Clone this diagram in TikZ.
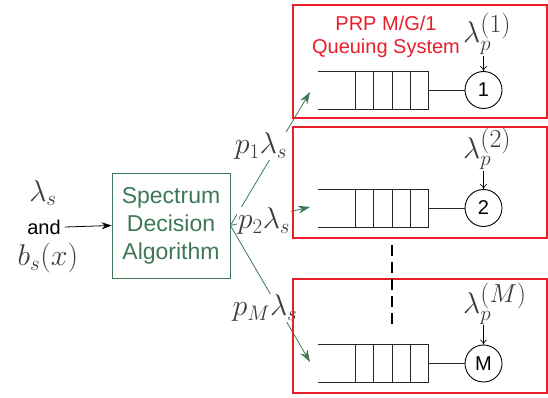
\RequirePackage{fix-cm}
\documentclass[tikz,border=0pt]{standalone}
\usepackage{fontspec}
\setmainfont{Liberation Sans}
\usetikzlibrary{arrows.meta}
\newcommand{\smallsub}[1]{\mbox{\fontsize{21}{21}\selectfont$#1$}}
\newcommand{\supsz}[1]{\mbox{\fontsize{26}{26}\selectfont$#1$}}
\newcommand{\lamP}[1]{\lambda_{\smallsub{p}}^{\supsz{(#1)}}}
\definecolor{sysred}{RGB}{232,30,40}
\definecolor{sdagreen}{RGB}{62,120,88}
\definecolor{mathgrey}{RGB}{60,60,60}
\begin{document}
\begin{tikzpicture}[x=1pt,y=-1pt,
  redbox/.style={draw=sysred, line width=1.8pt, minimum width=254pt, inner sep=0pt},
  server/.style={circle, draw, line width=0.9pt, minimum size=37pt, inner sep=0pt, font=\fontsize{20}{24}\selectfont},
  mathlbl/.style={text=mathgrey, inner sep=0pt, font=\fontsize{30}{34}\selectfont},
  feedlbl/.style={text=mathgrey, inner sep=1pt, fill=white, font=\fontsize{30}{34}\selectfont},
  feed/.style={draw=sdagreen, line width=0.8pt, -{Stealth[length=12pt,width=8pt]}},
  queueline/.style={line width=0.9pt, draw=black!85},
  arrin/.style={line width=0.6pt, -{To[length=5pt,width=7pt]}},
  dashline/.style={line width=2.6pt, dash pattern=on 11pt off 6pt},
  sdabox/.style={draw=sdagreen, line width=0.8pt, text=sdagreen, align=center, minimum width=118pt, minimum height=105pt, inner sep=0pt, font=\fontsize{23}{28}\selectfont}
]
\useasboundingbox (0,0) rectangle (548,398);

% left inputs
\node[mathlbl] (lams) at (43,193) {$\lambda_{\smallsub{s}}$};
\node[inner sep=0pt, font=\fontsize{20}{24}\selectfont] (and) at (44,227) {and};
\node[mathlbl] (bs) at (48,258) {$b_{\smallsub{s}}(x)$};
\node[sdabox] (sda) at (171,225.5) {Spectrum\\Decision\\Algorithm};
\draw[line width=0.8pt, -{Stealth[length=10pt,width=7pt]}] (and.east) ++(4,0) coordinate (ain) -- (sda.west);

% queues
\foreach \i/\y in {1/90, 2/208, 3/363.5} {
  \draw[queueline] (318,\y-19) -- (428,\y-19) -- (428,\y+19) -- (318,\y+19);
  \foreach \x in {355,373,392,410} \draw[queueline] (\x,\y-19) -- (\x,\y+19);
  \coordinate (q\i) at (428,\y);
}
\node[server] (srv1) at (483.5,90) {1};
\node[server] (srv2) at (483.5,208) {2};
\node[server] (srv3) at (483.5,363.5) {M};
\foreach \i in {1,2,3} \draw[queueline] (q\i) -- (srv\i.west);

% arrival labels
\node[mathlbl, anchor=base west] (lp1) at (463,43) {$\lamP{1}$};
\node[mathlbl, anchor=base west] (lp2) at (463,158) {$\lamP{2}$};
\node[mathlbl, anchor=base west] (lp3) at (463,313) {$\lamP{M}$};
\coordinate (a1) at (483.5,56);
\coordinate (a2) at (483.5,171);
\coordinate (a3) at (483.5,325);
\foreach \i in {1,2,3} \draw[arrin] (a\i) -- (srv\i.north);

% feeds
\coordinate (t1) at (310,92);
\coordinate (t2) at (310,207);
\coordinate (t3) at (310,362);
\foreach \i in {1,2,3} \draw[feed] (sda.east) -- (t\i);
\node[feedlbl] (f1) at (261,146) {$p_{\smallsub{1}}\lambda_{\smallsub{s}}$};
\node[feedlbl] (f2) at (264,221) {$p_{\smallsub{2}}\lambda_{\smallsub{s}}$};
\node[feedlbl] (f3) at (265,308) {$p_{\smallsub{M}}\lambda_{\smallsub{s}}$};

% systems
\node[redbox, minimum height=113pt] (sys1) at (420,61.5) {};
\node[redbox, minimum height=111pt] (sys2) at (420,182.5) {};
\node[redbox, minimum height=114pt] (sys3) at (420,336) {};
\node[text=sysred, align=center, inner sep=0pt, font=\fontsize{20}{23}\selectfont] (title) at (386,37) {PRP M/G/1\\Queuing System};

% dots
\coordinate (dtop) at (392,245);
\coordinate (dbot) at (392,326);
\draw[dashline] (dtop) -- (dbot);
\end{tikzpicture}
\end{document}
